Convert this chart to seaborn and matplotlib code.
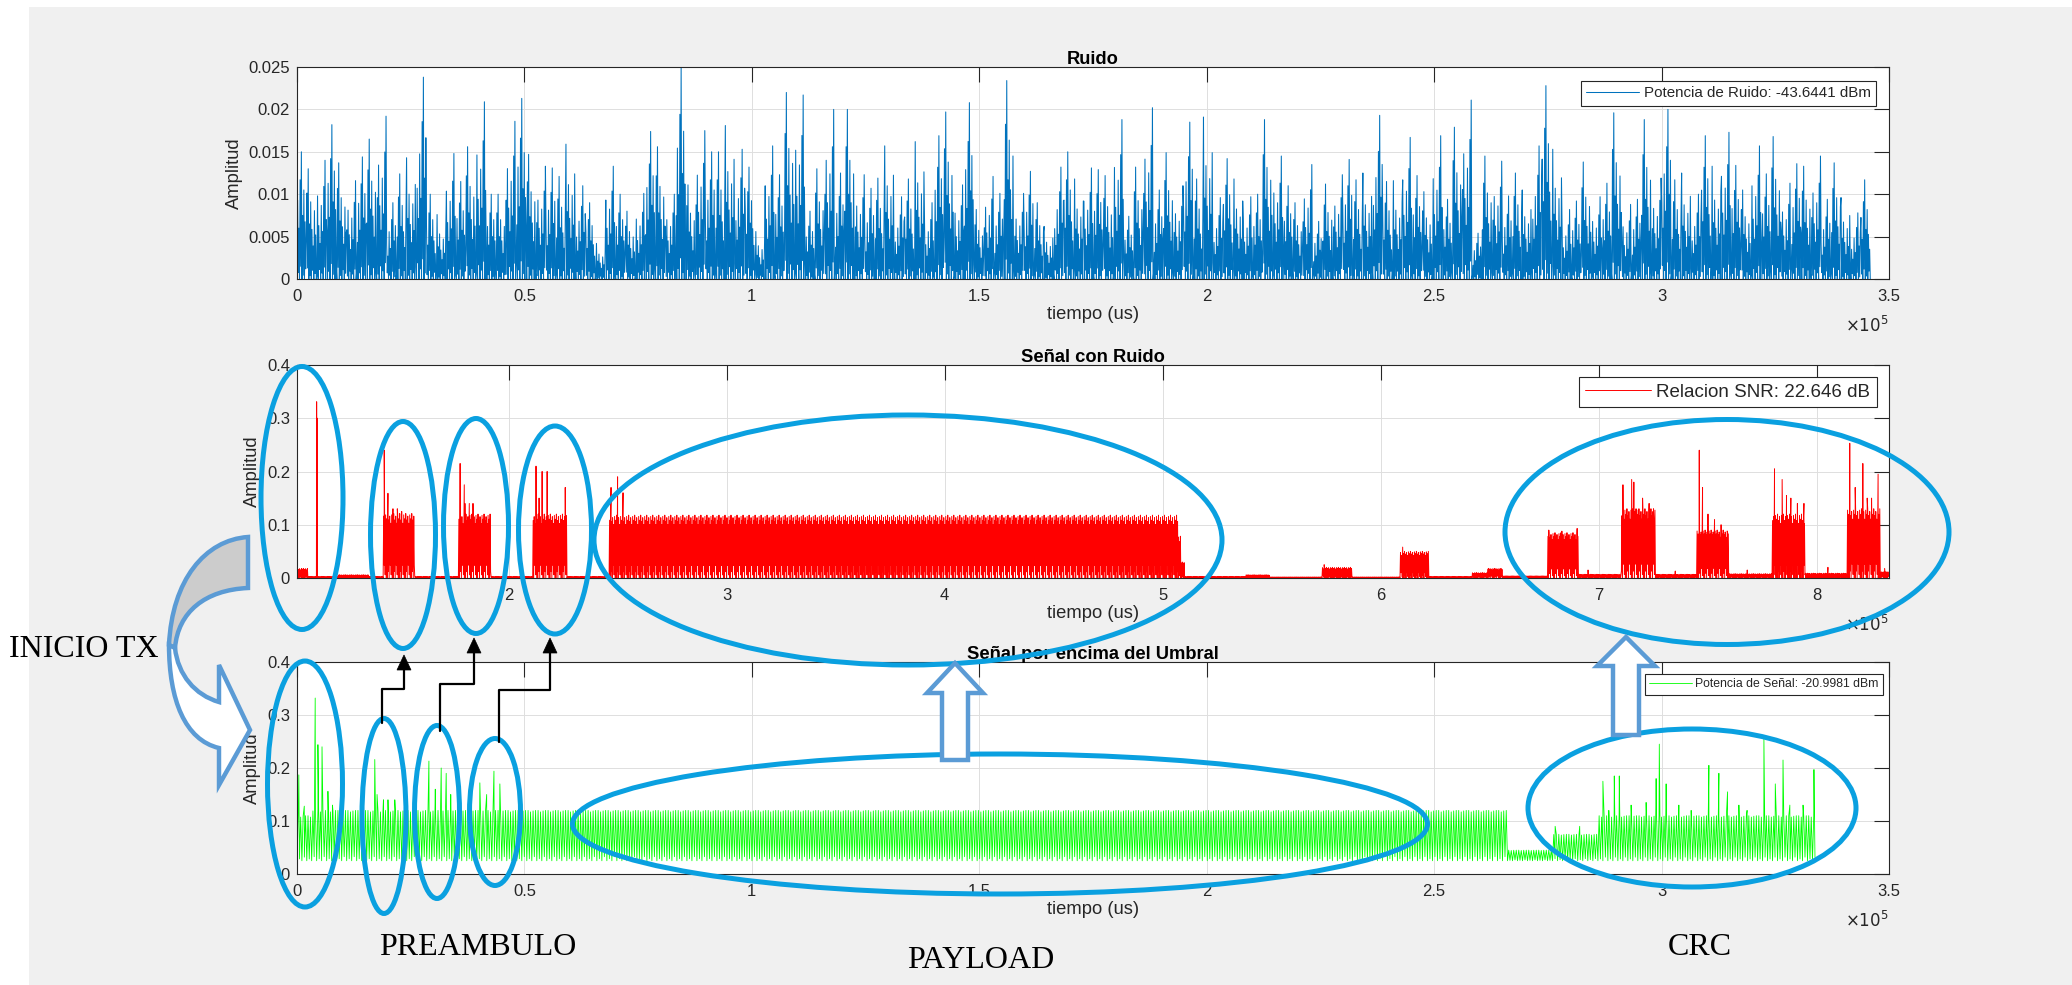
import matplotlib
matplotlib.use("Agg")
import matplotlib.pyplot as plt
import numpy as np
import seaborn as sns
from matplotlib.lines import Line2D
from matplotlib.patches import Ellipse, PathPatch, Polygon, Rectangle
from matplotlib.path import Path
from matplotlib.ticker import FuncFormatter, MultipleLocator

W, H = 2072, 985

# ---- Ruido: peak amplitude (x1e-3) per 2190 us bin
ruido_bin_us = 2190
ruido_peak = [
    15, 13, 14, 18.2, 13.7, 11.6, 14.4, 16.5, 19.2, 9, 12.4, 14.3, 23.8, 10, 7.6, 14.8,
    11.5, 15.6, 20.9, 10, 10, 18.6, 21.3, 14.7, 13.3, 13.1, 12.1, 15.9, 11, 9, 4.2, 13.3,
    10, 8, 10.1, 17.4, 15.6, 10, 24.9, 11.1,
    17.5, 15, 15, 18.1, 15.3, 13.2, 5.6, 15.7, 12.3, 22, 21.7, 8, 13, 20, 12.5, 20,
    12.3, 10.7, 11.9, 15.7, 9.7, 11.8, 16.2, 9, 16.9, 19.7, 11.1, 20.8, 8.2, 12.1, 10.1,
    23.4, 10.1, 12.7, 9, 6.2, 13.2, 15, 11.8, 13.1,
    12.9, 12.2, 18.8, 7.4, 13.2, 20.2, 10.5, 14.9, 11, 18.5, 11.8, 19.1, 9.6, 14.2, 11.8,
    9.7, 10, 18.8, 14.5, 11, 9, 13.5, 6.8, 11.2, 12.3, 14.1, 11.7, 12.5, 19.3, 11.5, 11.6,
    16.7, 12.2, 10.3, 16.9, 9.4, 17.9, 21.1, 5.4, 14.5,
    13.9, 9.8, 12.5, 10.5, 15.7, 22.8, 15.3, 8.2, 9.2, 13.8, 9.7, 11.3, 19.6, 8.8, 9.4,
    18.8, 11.9, 20, 11.7, 12.5, 10, 16.9, 13.3, 17.3, 13.4, 10.5, 15.7, 12.4, 16.8, 11.3,
    13.6, 13.3, 14.5, 9.4, 13.7, 9.6, 7.8, 11.7,
]

# ---- Señal con Ruido: segments (x1e5 us) with their envelope, plus spikes
senal_t0 = [1.03, 1.08, 1.22, 1.36, 1.425, 1.57, 1.77, 1.92, 2.113, 2.268, 2.461, 5.07, 5.085,
            5.10, 5.38, 5.49, 5.73, 5.87, 6.09, 6.22, 6.42, 6.49, 6.56, 6.764, 6.906, 7.103,
            7.259, 7.45, 7.595, 7.796, 7.947, 8.14, 8.29]
senal_t1 = senal_t0[1:] + [8.33]
senal_amp = [0.018, 0.003, 0.006, 0.003, 0.121, 0.003, 0.12, 0.003, 0.12, 0.003, 0.118, 0.08,
             0.03, 0.003, 0.006, 0.002, 0.02, 0.002, 0.05, 0.003, 0.01, 0.018, 0.004, 0.085,
             0.007, 0.13, 0.007, 0.09, 0.008, 0.12, 0.009, 0.13, 0.012]
senal_spk_t = [1.12, 1.123, 1.43, 1.447, 1.47, 1.49, 1.51, 1.778, 1.797, 1.80, 1.82, 1.837,
               2.126, 2.14, 2.154, 2.177, 2.26, 2.47, 2.50, 2.525, 5.74, 6.10,
               6.77, 6.83, 6.90, 7.11, 7.15, 7.16, 7.17, 7.20, 7.23, 7.25,
               7.46, 7.475, 7.50, 7.53, 7.56, 7.59, 7.805, 7.84, 7.86, 7.88, 7.91, 7.94,
               8.15, 8.175, 8.21, 8.23, 8.25, 8.28, 6.95, 7.35, 7.68, 8.05, 8.31]
senal_spk_amp = [0.331, 0.30, 0.24, 0.159, 0.13, 0.13, 0.125, 0.215, 0.175, 0.14, 0.14, 0.14,
                 0.21, 0.15, 0.20, 0.20, 0.17, 0.17, 0.19, 0.16, 0.025, 0.058,
                 0.09, 0.088, 0.093, 0.175, 0.185, 0.18, 0.13, 0.15, 0.14, 0.13,
                 0.24, 0.17, 0.12, 0.11, 0.10, 0.085, 0.205, 0.185, 0.155, 0.15, 0.14, 0.14,
                 0.253, 0.17, 0.215, 0.15, 0.15, 0.195, 0.015, 0.013, 0.015, 0.02, 0.018]

# ---- Señal por encima del Umbral
umbral_floor = 0.025
umbral_t0 = [0.0, 0.035, 2.664, 2.763, 2.86]
umbral_t1 = [0.035, 2.664, 2.763, 2.86, 3.34]
umbral_amp = [0.11, 0.12, 0.045, 0.075, 0.11]
umbral_spk_t = [0.004, 0.016, 0.04, 0.046, 0.055, 0.068, 0.078, 0.171, 0.176, 0.19, 0.20, 0.215,
                0.29, 0.304, 0.317, 0.328, 0.338, 0.402, 0.417, 0.433, 0.446,
                2.766, 2.82, 2.871, 2.884, 2.896, 2.907, 2.933, 2.966, 2.988, 2.995, 3.01,
                3.038, 3.065, 3.104, 3.126, 3.145, 3.17, 3.188, 3.225, 3.25, 3.267, 3.282,
                3.311, 3.335]
umbral_spk_amp = [0.187, 0.128, 0.332, 0.244, 0.24, 0.156, 0.13, 0.216, 0.15, 0.14, 0.14, 0.14,
                  0.213, 0.16, 0.20, 0.19, 0.15, 0.172, 0.15, 0.194, 0.17,
                  0.09, 0.09, 0.175, 0.12, 0.185, 0.185, 0.13, 0.135, 0.18, 0.245, 0.17,
                  0.13, 0.12, 0.205, 0.19, 0.155, 0.13, 0.12, 0.255, 0.17, 0.215, 0.13,
                  0.13, 0.197]

titles = ["Ruido", "Señal con Ruido", "Señal por encima del Umbral"]
legend_labels = ["Potencia de Ruido: -43.6441 dBm", "Relacion SNR: 22.646 dB",
                 "Potencia de Señal: -20.9981 dBm"]

# texture used to render the dense sampled signal inside each segment
NOISE_PATTERN = [0.0, 0.62, 0.05, 0.4, 0.0, 0.78, 0.1, 1.0, 0.0, 0.5, 0.03, 0.7,
                 0.0, 0.45, 0.08, 0.3]
BURST_PATTERN = [0.0, 1.0, 0.1, 0.9, 0.0, 0.96, 0.2, 0.85, 0.05, 0.98, 0.0, 0.92]
STRIPE_PATTERN = [0.0, 1.0, 0.04, 0.97, 0.0, 0.99, 0.08, 1.0]


def build(t0s, t1s, amps, floor, dt, pattern, spk_t, spk_a):
    ts, ys, k = [], [], 0
    for a, b, amp in zip(t0s, t1s, amps):
        n = max(2, int(round((b - a) * 1e5 / dt)))
        tt = np.linspace(a * 1e5, b * 1e5, n, endpoint=False)
        rel = np.array([pattern[(k + i) % len(pattern)] for i in range(n)])
        k += n
        ts.append(tt)
        ys.append(floor + (amp - floor) * rel)
    ts.append(np.array(spk_t) * 1e5)
    ys.append(np.array(spk_a))
    t = np.concatenate(ts)
    y = np.concatenate(ys)
    order = np.argsort(t, kind="stable")
    return t[order], y[order]


npat = len(NOISE_PATTERN)
rt, ry = [], []
for i, p in enumerate(ruido_peak):
    for j in range(npat):
        rt.append(i * ruido_bin_us + j * ruido_bin_us / npat)
        ry.append(p * 1e-3 * NOISE_PATTERN[(j + 5 * i) % npat])
rt, ry = np.array(rt), np.array(ry)
st, sy = build(senal_t0, senal_t1, senal_amp, 0.0, 230, BURST_PATTERN, senal_spk_t, senal_spk_amp)
ut, uy = build(umbral_t0, umbral_t1, umbral_amp, umbral_floor, 275, STRIPE_PATTERN,
               umbral_spk_t, umbral_spk_amp)

sns.set_theme(style="white")
plt.rcParams["font.family"] = ["Liberation Sans", "DejaVu Sans"]

fig = plt.figure(figsize=(W / 100, H / 100), dpi=100, facecolor="white")
fig.patches.append(Rectangle((29 / W, 0), 1 - 29 / W, 1 - 7 / H, transform=fig.transFigure,
                             facecolor="#f0f0f0", edgecolor="none", zorder=-10))


def fx(x):
    return x / W


def fy(y):
    return 1 - y / H


rects = [(67, 279), (365, 578), (662, 874)]
series = [(rt, ry, "#0072bd", 0.75), (st, sy, "#ff0000", 0.7), (ut, uy, "#00ff00", 0.6)]
legend_fs = [10.9, 13.5, 8.8]
legend_anchor = [(1876, 81), (1877, 377), (1883, 674)]
dark = "#262626"

for k, ((top, bot), (t, y, c, lw)) in enumerate(zip(rects, series)):
    ax = fig.add_axes([fx(297), fy(bot), 1592 / W, (bot - top) / H])
    ax.set_facecolor("white")
    sns.lineplot(x=t, y=y, ax=ax, color=c, linewidth=lw, estimator=None, sort=False,
                 label=legend_labels[k])
    if k == 1:
        ax.set_xlim(1.03e5, 8.33e5)
        ax.xaxis.set_major_locator(MultipleLocator(1e5))
    else:
        ax.set_xlim(0, 3.5e5)
        ax.xaxis.set_major_locator(MultipleLocator(0.5e5))
    if k == 0:
        ax.set_ylim(0, 0.025)
        ax.yaxis.set_major_locator(MultipleLocator(0.005))
    else:
        ax.set_ylim(0, 0.4)
        ax.yaxis.set_major_locator(MultipleLocator(0.1))
    ax.xaxis.set_major_formatter(FuncFormatter(lambda v, p: f"{v / 1e5:g}"))
    ax.yaxis.set_major_formatter(FuncFormatter(lambda v, p: f"{v:g}"))
    ax.grid(True, color="#dedede", linewidth=0.7)
    ax.set_axisbelow(True)
    for s in ax.spines.values():
        s.set_color(dark)
        s.set_linewidth(0.8)
    ax.tick_params(direction="in", length=11, width=0.8, top=True, right=True,
                   color=dark, labelcolor=dark, labelsize=12)
    ax.tick_params(axis="x", pad=7)
    ax.tick_params(axis="y", pad=5)
    ax.set_title(titles[k], fontsize=13.2, fontweight="bold", pad=2.5, color="black")
    ax.set_xlabel("tiempo (us)", fontsize=13.2, color=dark, labelpad=1.5)
    ax.set_ylabel("Amplitud", fontsize=13.2, color=dark, labelpad=4)
    ax.annotate(r"$\times10^{5}$", xy=(1, 0), xycoords="axes fraction", xytext=(0, -33),
                textcoords="offset points", ha="right", va="center", fontsize=12, color=dark)
    lx, ly = legend_anchor[k]
    leg = ax.legend(loc="upper right", bbox_to_anchor=(fx(lx), fy(ly)),
                    bbox_transform=fig.transFigure, borderaxespad=0, fontsize=legend_fs[k],
                    handlelength=3.5, handletextpad=0.3, borderpad=0.35, fancybox=False,
                    framealpha=1, frameon=True)
    leg.get_frame().set_edgecolor(dark)
    leg.get_frame().set_linewidth(0.8)

# ---- annotations (figure pixels)
ell_color = "#0aa0e0"
ellipses = [(302, 498, 82, 263), (403, 535, 65, 227), (476, 526, 65, 215), (555, 530, 73, 208),
            (908, 540, 628, 250), (1727, 532, 444, 225), (305, 784, 75, 246),
            (384, 816, 44, 195), (437, 812, 45, 173), (495, 812, 51, 147),
            (1000, 824, 855, 140), (1692, 808, 328, 158)]
for cx, cy, w, h in ellipses:
    fig.add_artist(Ellipse((fx(cx), fy(cy)), w / W, h / H, transform=fig.transFigure,
                           fill=False, edgecolor=ell_color, linewidth=3.6, zorder=20))

arrow_color = "#5b9bd5"


def block_up(xc, ytip, yhead, ybot, half_head, half_shaft):
    pts = [(xc - half_shaft, ybot), (xc - half_shaft, yhead), (xc - half_head, yhead),
           (xc, ytip), (xc + half_head, yhead), (xc + half_shaft, yhead), (xc + half_shaft, ybot)]
    fig.add_artist(Polygon([(fx(a), fy(b)) for a, b in pts], closed=True,
                           transform=fig.transFigure, facecolor="white",
                           edgecolor=arrow_color, linewidth=3.2, zorder=21))


block_up(955, 663, 693, 760, 28, 13)
block_up(1626, 637, 666, 735, 29, 13)

M, C, L, Z = Path.MOVETO, Path.CURVE4, Path.LINETO, Path.CLOSEPOLY
gray_pts = [(248, 537), (205, 540), (172, 580), (169, 645), (175, 648),
            (178, 612), (205, 590), (248, 588), (248, 537)]
gray_codes = [M, C, C, C, L, C, C, C, Z]
white_pts = [(169, 645), (169, 700), (185, 740), (219, 748), (219, 785), (250, 730),
             (219, 665), (219, 702), (195, 695), (178, 675), (175, 648), (169, 645)]
white_codes = [M, C, C, C, L, L, L, L, C, C, C, Z]
for pts, codes, fc in [(gray_pts, gray_codes, "#cccccc"), (white_pts, white_codes, "white")]:
    path = Path([(fx(a), fy(b)) for a, b in pts], codes)
    fig.add_artist(PathPatch(path, transform=fig.transFigure, facecolor=fc,
                             edgecolor=arrow_color, linewidth=3.2, zorder=21))

elbows = [([(382, 723), (382, 689), (404, 689), (404, 668)], (404, 655)),
          ([(440, 731), (440, 684), (474, 684), (474, 651)], (474, 638)),
          ([(499, 742), (499, 690), (550, 690), (550, 651)], (550, 638))]
for pts, (tx, ty) in elbows:
    fig.add_artist(Line2D([fx(a) for a, b in pts], [fy(b) for a, b in pts],
                          transform=fig.transFigure, color="black", linewidth=1.6, zorder=22))
    head = [(tx, ty), (tx - 7, ty + 15), (tx + 7, ty + 15)]
    fig.add_artist(Polygon([(fx(a), fy(b)) for a, b in head], closed=True,
                           transform=fig.transFigure, facecolor="black", edgecolor="black",
                           linewidth=0.5, zorder=22))

serif = ["Liberation Serif", "DejaVu Serif"]
fig.text(fx(9), fy(657), "INICIO TX", ha="left", va="baseline", fontsize=23, family=serif,
         color="black", zorder=25)
fig.text(fx(478), fy(955), "PREAMBULO", ha="center", va="baseline", fontsize=23, family=serif,
         color="black", zorder=25)
fig.text(fx(981), fy(968), "PAYLOAD", ha="center", va="baseline", fontsize=23, family=serif,
         color="black", zorder=25)
fig.text(fx(1700), fy(955), "CRC", ha="center", va="baseline", fontsize=23, family=serif,
         color="black", zorder=25)

fig.savefig("out.png", dpi=100, facecolor="white")
